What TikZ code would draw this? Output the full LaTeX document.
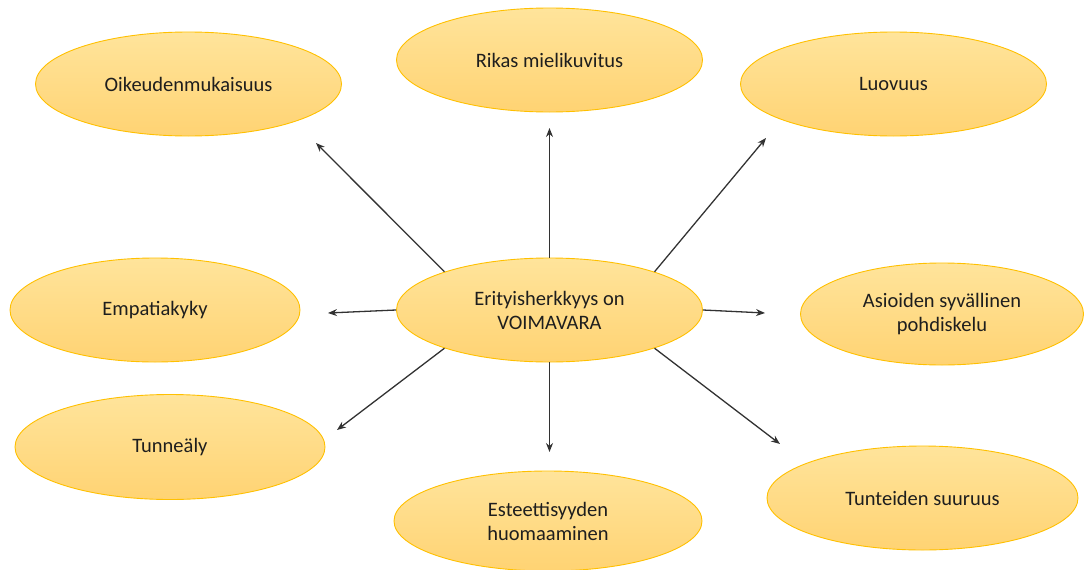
\documentclass[tikz,border=0pt]{standalone}
\usepackage{fontspec}
\setmainfont{Carlito}
\usetikzlibrary{shapes.geometric,arrows.meta}
\definecolor{elltop}{RGB}{255,228,155}
\definecolor{ellbot}{RGB}{255,211,115}
\definecolor{ellline}{RGB}{255,192,0}
\definecolor{arr}{RGB}{50,50,50}
\definecolor{txt}{RGB}{30,30,30}
\tikzset{
  bubble/.style={ellipse, draw=ellline, line width=0.9pt, top color=elltop, bottom color=ellbot,
    inner sep=0pt, minimum width=306pt, minimum height=104pt, align=center, text=txt,
    font=\fontsize{20.5}{24}\selectfont},
  link/.style={draw=arr, line width=1.3pt, -{Stealth[length=9pt,width=7pt]}}
}
\begin{document}
\begin{tikzpicture}[x=1pt,y=-1pt]
\useasboundingbox (0,0) rectangle (1084,570);
\node[bubble] (c) at (549.5,310) {Erityisherkkyys on\\VOIMAVARA};
\node[bubble] (n) at (549.5,60) {Rikas mielikuvitus};
\node[bubble] (nw) at (188.5,84) {Oikeudenmukaisuus};
\node[bubble] (ne) at (893.5,84) {Luovuus};
\node[bubble, minimum width=290pt] (w) at (155,310) {Empatiakyky};
\node[bubble, minimum width=283pt, minimum height=102pt] (e) at (942,314) {Asioiden syvällinen\\pohdiskelu};
\node[bubble, minimum width=310pt, minimum height=105pt] (sw) at (170,447) {Tunneäly};
\node[bubble, minimum width=308pt, minimum height=100pt] (s) at (548,521) {Esteettisyyden\\huomaaminen};
\node[bubble, minimum width=311pt] (se) at (922.5,498) {Tunteiden suuruus};
\coordinate (anw) at (316,143);
\coordinate (an) at (549.5,128);
\coordinate (ane) at (766,138);
\coordinate (aw) at (328,313);
\coordinate (ae) at (765,313);
\coordinate (asw) at (337,430);
\coordinate (as) at (549.5,452);
\coordinate (ase) at (780,444);
\draw[link] (c.160) -- (anw);
\draw[link] (c.90) -- (an);
\draw[link] (c.20) -- (ane);
\draw[link] (c.180) -- (aw);
\draw[link] (c.0) -- (ae);
\draw[link] (c.200) -- (asw);
\draw[link] (c.270) -- (as);
\draw[link] (c.340) -- (ase);
\end{tikzpicture}
\end{document}
